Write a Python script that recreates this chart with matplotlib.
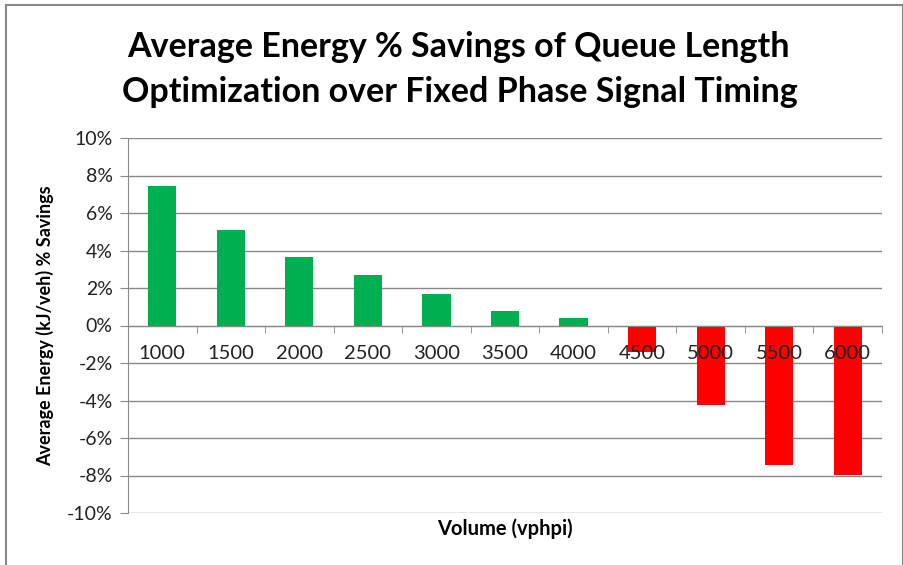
import matplotlib
matplotlib.use("Agg")
import matplotlib.pyplot as plt
from matplotlib.patches import Rectangle
from matplotlib.ticker import FixedLocator, PercentFormatter

# data
volumes = ["1000", "1500", "2000", "2500", "3000", "3500",
           "4000", "4500", "5000", "5500", "6000"]
savings = [0.0746, 0.0508, 0.0364, 0.0268, 0.0166, 0.0076,
           0.0038, -0.0140, -0.0424, -0.0744, -0.0796]

GREEN = "#00B050"
RED = "#FF0000"
GRID = "#888888"

plt.rcParams["font.family"] = ["Lato", "DejaVu Sans"]
plt.rcParams["axes.unicode_minus"] = False

fig = plt.figure(figsize=(9.04, 5.65), dpi=100)
ax = fig.add_axes([128 / 904, 1 - 513 / 565, (882 - 128) / 904, (513 - 138) / 565])

x = list(range(len(volumes)))
colors = [GREEN if v >= 0 else RED for v in savings]
ax.bar(x, savings, width=0.41, color=colors, zorder=2)

ax.set_xlim(-0.5, len(volumes) - 0.5)
ax.set_ylim(-0.10, 0.10)
ax.set_yticks([i / 100 for i in range(-10, 11, 2)])
ax.yaxis.set_major_formatter(PercentFormatter(1.0, decimals=0))
ax.grid(axis="y", color=GRID, linewidth=1.0, zorder=0)
ax.set_axisbelow(True)

# x axis drawn on the zero line, Excel style
ax.spines["bottom"].set_position(("data", 0))
ax.spines["bottom"].set_color(GRID)
ax.spines["left"].set_color(GRID)
ax.spines["top"].set_visible(False)
ax.spines["right"].set_visible(False)

ax.set_xticks(x)
ax.set_xticklabels([])
ax.xaxis.set_minor_locator(FixedLocator([i - 0.5 for i in range(len(volumes) + 1)]))
ax.tick_params(axis="x", which="major", length=0)
ax.tick_params(axis="x", which="minor", length=5, color=GRID, direction="out")
ax.tick_params(axis="y", length=6, color=GRID, labelsize=14, labelcolor="#222222", pad=5)

# category labels sit on top of the bars, just under the zero line
for xi, name in zip(x, volumes):
    ax.annotate(name, (xi, 0), xytext=(0, -28), textcoords="offset pixels",
                ha="center", va="center", fontsize=14.5, color="#222222", zorder=5)

ax.set_xlabel("Volume (vphpi)", fontsize=14.5, fontweight="bold")
ax.xaxis.set_label_coords(0.5, -0.015)
ax.xaxis.label.set_va("top")
ax.set_ylabel("Average Energy (kJ/veh) % Savings", fontsize=13, fontweight="bold")
ax.yaxis.set_label_coords(-0.098, 0.5)

fig.text(458 / 904, 1 - 47 / 565, "Average Energy % Savings of Queue Length",
         ha="center", va="center", fontsize=24.5, fontweight="bold")
fig.text(460 / 904, 1 - 92 / 565, "Optimization over Fixed Phase Signal Timing",
         ha="center", va="center", fontsize=24.5, fontweight="bold")

# chart area border
fig.patches.append(Rectangle((6 / 904, -0.05), (903 - 6) / 904, 1 - 5 / 565 + 0.05,
                             transform=fig.transFigure, fill=False,
                             edgecolor="#888888", linewidth=1.5))

fig.savefig("out.png", dpi=100)
